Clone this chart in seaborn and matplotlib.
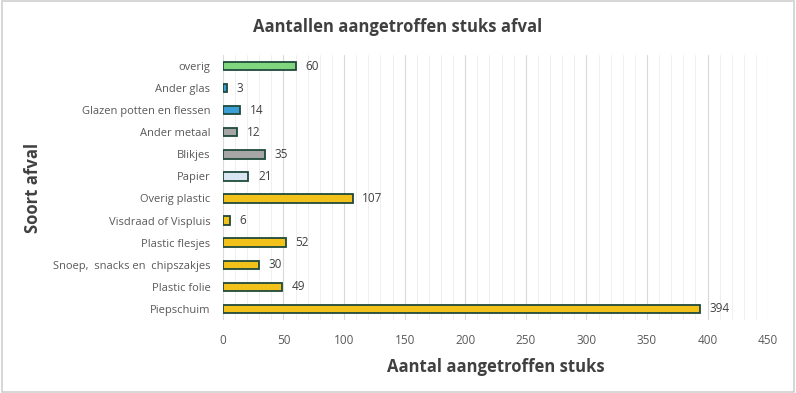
import matplotlib.pyplot as plt
import seaborn as sns
from matplotlib.patches import Rectangle
from matplotlib.ticker import MultipleLocator

# data (top to bottom)
soort = ['overig', 'Ander glas', 'Glazen potten en flessen', 'Ander metaal', 'Blikjes',
         'Papier', 'Overig plastic', 'Visdraad of Vispluis', 'Plastic flesjes',
         'Snoep,  snacks en  chipszakjes', 'Plastic folie', 'Piepschuim']
aantal = [60, 3, 14, 12, 35, 21, 107, 6, 52, 30, 49, 394]
kleuren = ['#7fd67f', '#3a9fd6', '#3a9fd6', '#a6a6a6', '#a6a6a6', '#d9e6f2',
           '#f2c21b', '#f2c21b', '#f2c21b', '#f2c21b', '#f2c21b', '#f2c21b']

sns.set_style('white')
plt.rcParams['font.family'] = ['Open Sans', 'DejaVu Sans']

fig = plt.figure(figsize=(7.96, 3.93), dpi=100)
ax = fig.add_axes([0.280, 0.186, 0.685, 0.674])

sns.barplot(x=aantal, y=soort, hue=soort, palette=dict(zip(soort, kleuren)),
            orient='h', width=0.38, edgecolor='#1f4a3a', linewidth=1.3,
            saturation=1, legend=False, ax=ax)

for i, v in enumerate(aantal):
    ax.text(v + 8, i, str(v), va='center', ha='left', fontsize=8.5, color='#404040')

ax.set_xlim(0, 450)
ax.xaxis.set_major_locator(MultipleLocator(50))
ax.xaxis.set_minor_locator(MultipleLocator(10))
ax.grid(axis='x', which='major', color='#d9d9d9', linewidth=0.8)
ax.grid(axis='x', which='minor', color='#ececec', linewidth=0.6)
ax.set_axisbelow(True)
for s in ax.spines.values():
    s.set_visible(False)
ax.tick_params(axis='both', length=0, labelsize=8.5, colors='#595959')
ax.tick_params(axis='y', labelsize=8, pad=9)
ax.tick_params(axis='x', pad=10)

ax.set_xlabel('Aantal aangetroffen stuks', fontsize=12, fontweight='bold', color='#404040', labelpad=8)
ax.set_ylabel('Soort afval', fontsize=12, fontweight='bold', color='#404040', labelpad=8)
fig.suptitle('Aantallen aangetroffen stuks afval', y=0.955, fontsize=12, fontweight='bold', color='#404040')

fig.patches.append(Rectangle((0.002, 0.003), 0.996, 0.994, transform=fig.transFigure,
                             fill=False, edgecolor='#d0d0d0', linewidth=1.2))

fig.savefig('out.png', dpi=100)
